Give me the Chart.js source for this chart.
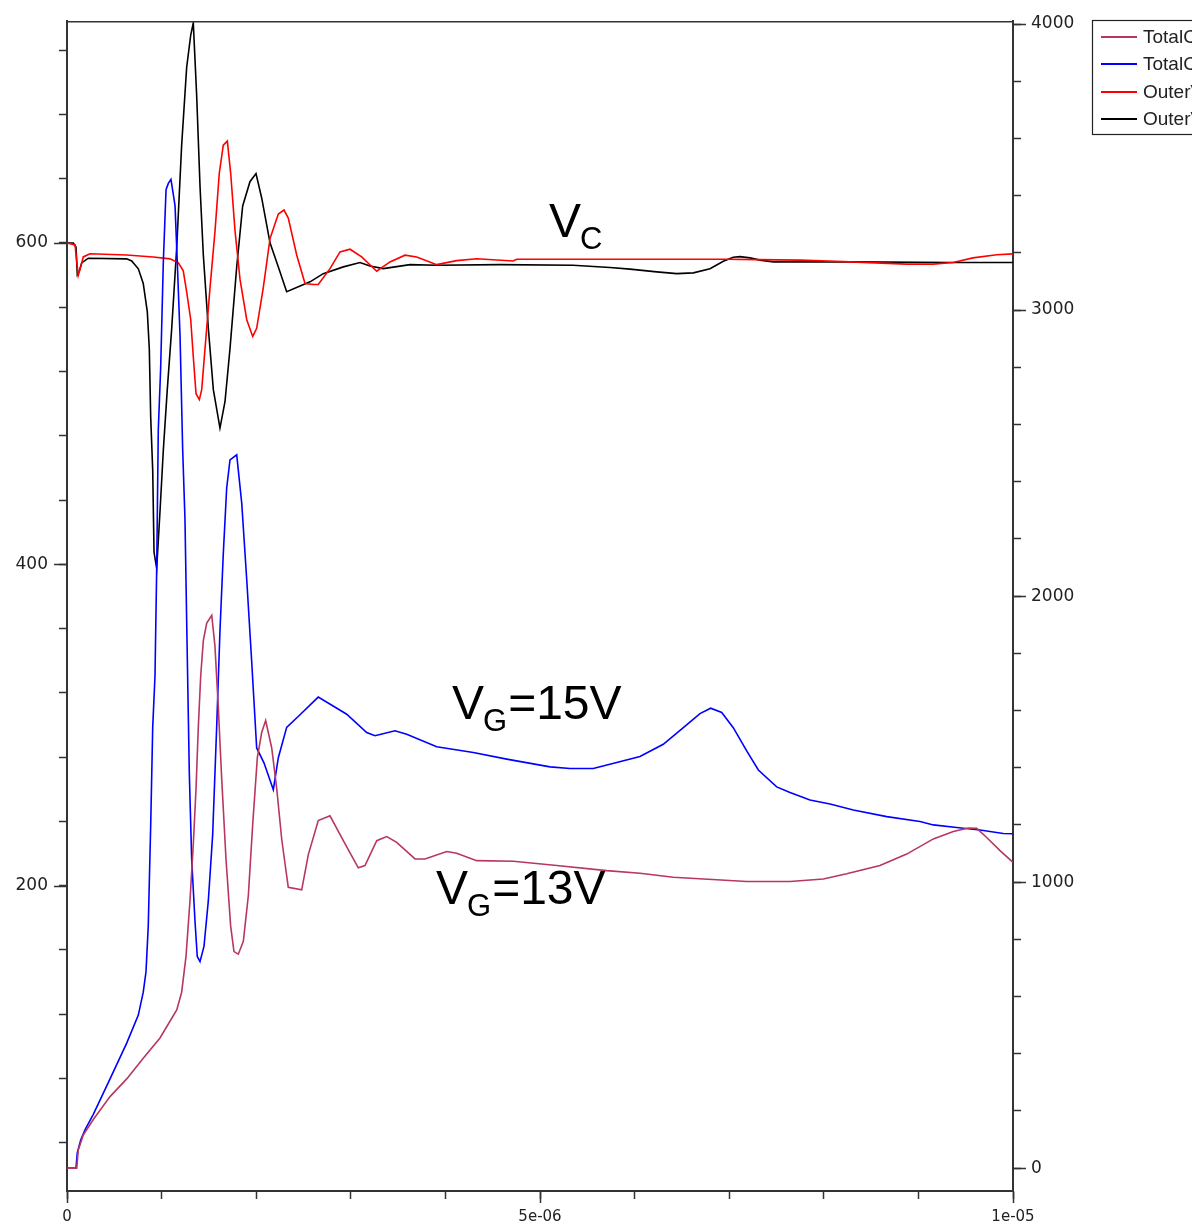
<!DOCTYPE html>
<html>
<head>
<meta charset="utf-8">
<script src="https://cdn.jsdelivr.net/npm/chart.js@4.4.1/dist/chart.umd.min.js"></script>
<style>
  html, body { margin: 0; padding: 0; background: #fff; }
  #wrap { width: 1203px; height: 1231px; position: relative; }
</style>
</head>
<body>
<div id="wrap"><canvas id="chart" width="1203" height="1231"></canvas></div>
<script>
// time in microseconds, voltages on left axis (V), currents on right axis (A)

// collector voltage, VG=13V (black)
const outerBlackT = [0, 0.067, 0.095, 0.109, 0.13, 0.155, 0.225, 0.631, 0.684, 0.754, 0.806, 0.849, 0.87, 0.885, 0.906, 0.92, 0.948, 0.983, 1.018, 1.06, 1.107, 1.16, 1.212, 1.265, 1.308, 1.335, 1.371, 1.406, 1.441, 1.494, 1.547, 1.617, 1.67, 1.723, 1.794, 1.857, 1.934, 1.998, 2.058, 2.146, 2.234, 2.322, 2.569, 2.709, 2.921, 3.097, 3.203, 3.344, 3.626, 3.908, 4.577, 5.349, 5.74, 5.951, 6.234, 6.445, 6.621, 6.797, 6.938, 7.043, 7.114, 7.22, 7.326, 7.466, 8.277, 9.366, 10.0];
const outerBlackV = [600, 600, 597.5, 580.3, 582.6, 587.6, 590.5, 590.1, 588.8, 583.9, 574.8, 557.1, 534.2, 491.3, 458.4, 407.5, 397.5, 432.9, 470.8, 508.7, 546.9, 597.5, 660.9, 709.3, 729.4, 737.0, 691.3, 635.4, 592.5, 546.9, 508.7, 484.8, 501.2, 534.2, 585.1, 623.0, 638.1, 643.2, 628.0, 600.1, 585.1, 569.7, 575.8, 580.9, 585.1, 587.8, 585.7, 584.0, 586.5, 586.1, 586.5, 586.1, 584.7, 583.7, 582.0, 580.9, 581.4, 584.0, 588.6, 591.1, 591.5, 590.7, 589.3, 588.2, 588.2, 587.8, 587.8];

// collector voltage, VG=15V (red)
const outerRedT = [0, 0.085, 0.109, 0.119, 0.145, 0.172, 0.243, 0.631, 0.912, 1.089, 1.177, 1.229, 1.265, 1.308, 1.335, 1.364, 1.399, 1.424, 1.459, 1.512, 1.565, 1.61, 1.652, 1.695, 1.73, 1.776, 1.829, 1.9, 1.963, 2.005, 2.075, 2.146, 2.234, 2.294, 2.339, 2.428, 2.516, 2.604, 2.656, 2.78, 2.886, 2.992, 3.115, 3.274, 3.414, 3.573, 3.697, 3.908, 4.119, 4.331, 4.715, 4.754, 6.974, 7.291, 7.748, 8.277, 8.876, 9.154, 9.366, 9.577, 9.828, 10.0];
const outerRedV = [600, 598.8, 585.1, 579.8, 585.1, 591.3, 593.3, 592.5, 591.3, 590.1, 587.6, 582.6, 569.6, 552.2, 529.2, 506.2, 502.5, 508.7, 534.2, 572.2, 607.7, 643.5, 660.9, 663.4, 643.5, 607.7, 577.3, 552.2, 541.8, 546.9, 572.2, 602.7, 618.0, 620.5, 615.5, 592.5, 574.8, 574.1, 574.1, 584.0, 594.4, 596.1, 591.3, 582.4, 588.2, 592.4, 591.3, 586.5, 589.0, 590.2, 588.8, 589.9, 589.9, 589.6, 589.3, 588.2, 586.8, 586.8, 587.8, 590.7, 592.7, 593.2];

// total current, VG=15V (blue)
const totalBlueT = [0, 0.095, 0.109, 0.145, 0.19, 0.278, 0.455, 0.631, 0.754, 0.806, 0.835, 0.859, 0.885, 0.906, 0.93, 0.948, 0.965, 0.99, 1.018, 1.047, 1.071, 1.099, 1.142, 1.166, 1.195, 1.223, 1.247, 1.265, 1.293, 1.318, 1.353, 1.377, 1.406, 1.448, 1.494, 1.54, 1.582, 1.617, 1.652, 1.688, 1.723, 1.794, 1.847, 1.9, 1.952, 2.005, 2.082, 2.181, 2.234, 2.322, 2.463, 2.656, 2.957, 3.168, 3.256, 3.467, 3.591, 3.908, 4.295, 4.648, 5.106, 5.317, 5.563, 5.811, 6.057, 6.303, 6.515, 6.691, 6.804, 6.921, 7.043, 7.185, 7.308, 7.502, 7.643, 7.854, 8.066, 8.312, 8.665, 9.017, 9.158, 9.405, 9.651, 9.897, 10.0];
const totalBlueI = [0, 0, 54, 98, 134, 188, 312, 437, 535, 615, 686, 846, 1202, 1541, 1719, 2094, 2581, 2796, 3166, 3421, 3443, 3457, 3365, 3166, 2909, 2510, 2270, 1913, 1381, 1079, 864, 740, 722, 775, 935, 1167, 1541, 1879, 2147, 2378, 2476, 2494, 2325, 2057, 1773, 1469, 1417, 1323, 1435, 1541, 1585, 1647, 1587, 1523, 1512, 1529, 1517, 1473, 1453, 1430, 1403, 1397, 1397, 1418, 1439, 1482, 1540, 1589, 1608, 1593, 1540, 1459, 1392, 1333, 1313, 1287, 1273, 1252, 1229, 1212, 1200, 1191, 1182, 1170, 1169];

// total current, VG=13V (maroon)
const totalMaroonT = [0, 0.103, 0.119, 0.172, 0.278, 0.455, 0.631, 0.806, 0.983, 1.16, 1.212, 1.258, 1.3, 1.335, 1.364, 1.388, 1.413, 1.441, 1.477, 1.53, 1.564, 1.599, 1.635, 1.681, 1.73, 1.765, 1.811, 1.864, 1.917, 1.963, 2.012, 2.058, 2.1, 2.164, 2.217, 2.27, 2.339, 2.481, 2.551, 2.656, 2.78, 2.921, 3.079, 3.15, 3.274, 3.38, 3.485, 3.679, 3.784, 4.014, 4.119, 4.331, 4.718, 5.177, 5.705, 6.057, 6.409, 6.868, 7.185, 7.643, 7.995, 8.242, 8.594, 8.876, 9.158, 9.369, 9.528, 9.617, 9.722, 9.863, 10.0];
const totalMaroonI = [0, 0, 63, 116, 170, 250, 312, 384, 455, 553, 615, 740, 935, 1131, 1327, 1541, 1719, 1844, 1906, 1933, 1825, 1613, 1363, 1079, 846, 757, 748, 793, 953, 1202, 1435, 1523, 1565, 1469, 1327, 1149, 982, 973, 1096, 1215, 1232, 1145, 1050, 1058, 1145, 1159, 1139, 1081, 1081, 1107, 1101, 1075, 1073, 1058, 1040, 1031, 1017, 1008, 1002, 1002, 1011, 1029, 1058, 1098, 1151, 1177, 1189, 1188, 1156, 1110, 1069];

const seriesLabels = ["TotalCurrent(VG=13V)", "TotalCurrent(VG=15V)", "OuterVoltage(VG=15V)", "OuterVoltage(VG=13V)"];
const seriesColors = ["#b8375f", "#0000ff", "#ff0000", "#000000"];

const leftTicks = [40, 80, 120, 160, 200, 240, 280, 320, 360, 400, 440, 480, 520, 560, 600, 640, 680, 720];
const leftLabels = [200, 400, 600];
const rightTicks = [0, 200, 400, 600, 800, 1000, 1200, 1400, 1600, 1800, 2000, 2200, 2400, 2600, 2800, 3000, 3200, 3400, 3600, 3800, 4000];
const rightLabels = [0, 1000, 2000, 3000, 4000];
const timeTicks = [0, 1e-6, 2e-6, 3e-6, 4e-6, 5e-6, 6e-6, 7e-6, 8e-6, 9e-6, 1e-5];
const timeLabels = ["0", "", "", "", "", "5e-06", "", "", "", "", "1e-05"];

const AXIS = "#333";
const LABEL_FONT = { family: "DejaVu Sans", size: 17 };

function pts(ts, vs) {
  return ts.map((t, i) => ({ x: t * 1e-6, y: vs[i] }));
}

function lineSet(i, data, axis) {
  return {
    label: seriesLabels[i],
    data: data,
    yAxisID: axis,
    borderColor: seriesColors[i],
    borderWidth: 1.6,
    pointRadius: 0,
    tension: 0,
    fill: false
  };
}

// longer marks at labelled ticks, top frame line
const frameExtras = {
  id: "frameExtras",
  afterDraw(chart) {
    const { ctx, chartArea, scales } = chart;
    ctx.save();
    ctx.strokeStyle = AXIS;
    ctx.lineWidth = 1.5;
    ctx.beginPath();
    leftLabels.forEach(v => {
      const y = Math.round(scales.yL.getPixelForValue(v)) + 0.5;
      ctx.moveTo(chartArea.left - 13, y); ctx.lineTo(chartArea.left, y);
    });
    rightLabels.forEach(v => {
      const y = Math.round(scales.yR.getPixelForValue(v)) + 0.5;
      ctx.moveTo(chartArea.right, y); ctx.lineTo(chartArea.right + 13, y);
    });
    [0, 5e-6, 1e-5].forEach(v => {
      const x = Math.round(scales.x.getPixelForValue(v)) + 0.5;
      ctx.moveTo(x, chartArea.bottom); ctx.lineTo(x, chartArea.bottom + 12);
    });
    ctx.stroke();
    ctx.beginPath();
    ctx.moveTo(chartArea.left, chartArea.top + 0.5);
    ctx.lineTo(chartArea.right, chartArea.top + 0.5);
    ctx.stroke();
    ctx.restore();
  }
};

// legend box at the upper right, its right part cut off
const boxLegend = {
  id: "boxLegend",
  afterDraw(chart) {
    const ctx = chart.ctx;
    const rows = [37, 64, 92, 119];
    ctx.save();
    ctx.beginPath();
    ctx.rect(1080, 0, 112, 200);
    ctx.clip();
    ctx.fillStyle = "#fff";
    ctx.fillRect(1092, 20, 200, 115);
    ctx.strokeStyle = "#222";
    ctx.lineWidth = 1.2;
    ctx.strokeRect(1092.5, 20.5, 200, 114);
    ctx.font = "19px 'Liberation Sans', Arial, sans-serif";
    ctx.textBaseline = "middle";
    chart.data.datasets.forEach((ds, i) => {
      const y = rows[i];
      ctx.strokeStyle = ds.borderColor;
      ctx.lineWidth = 2.2;
      ctx.beginPath();
      ctx.moveTo(1101, y);
      ctx.lineTo(1137, y);
      ctx.stroke();
      ctx.fillStyle = "#222";
      ctx.fillText(ds.label, 1143, y + 1);
    });
    ctx.restore();
  }
};

// curve annotations with subscripts
const curveNotes = {
  id: "curveNotes",
  afterDatasetsDraw(chart) {
    const ctx = chart.ctx;
    const notes = [
      { x: 549, y: 237, sub: "C", rest: "" },
      { x: 452, y: 719, sub: "G", rest: "=15V" },
      { x: 436, y: 904, sub: "G", rest: "=13V" }
    ];
    ctx.save();
    ctx.fillStyle = "#000";
    ctx.textBaseline = "alphabetic";
    notes.forEach(n => {
      ctx.font = "48px 'Liberation Sans', Arial, sans-serif";
      ctx.fillText("V", n.x, n.y);
      let x = n.x + ctx.measureText("V").width - 1;
      ctx.font = "31px 'Liberation Sans', Arial, sans-serif";
      ctx.fillText(n.sub, x, n.y + 12);
      x += ctx.measureText(n.sub).width + 1;
      if (n.rest) {
        ctx.font = "48px 'Liberation Sans', Arial, sans-serif";
        ctx.fillText(n.rest, x, n.y);
      }
    });
    ctx.restore();
  }
};

const ctx = document.getElementById("chart").getContext("2d");

new Chart(ctx, {
  type: "line",
  data: {
    datasets: [
      lineSet(0, pts(totalMaroonT, totalMaroonI), "yR"),
      lineSet(1, pts(totalBlueT, totalBlueI), "yR"),
      lineSet(2, pts(outerRedT, outerRedV), "yL"),
      lineSet(3, pts(outerBlackT, outerBlackV), "yL")
    ]
  },
  options: {
    responsive: false,
    animation: false,
    layout: { padding: { top: 19, left: 0, right: 0, bottom: 0 } },
    plugins: { legend: { display: false }, tooltip: { enabled: false } },
    scales: {
      x: {
        type: "linear",
        min: 0,
        max: 1e-5,
        afterBuildTicks: s => { s.ticks = timeTicks.map(v => ({ value: v })); },
        afterFit: s => { s.height = 40; },
        grid: { drawOnChartArea: false, tickLength: 8, tickColor: AXIS, tickWidth: 1.5 },
        border: { color: AXIS, width: 2 },
        ticks: {
          autoSkip: false, maxRotation: 0, padding: 9,
          color: "#222", font: { family: "DejaVu Sans", size: 15 },
          callback: (v, i) => timeLabels[i]
        }
      },
      yL: {
        type: "linear",
        position: "left",
        min: 10,
        max: 738,
        afterBuildTicks: s => { s.ticks = leftTicks.map(v => ({ value: v })); },
        afterFit: s => { s.width = 67; },
        grid: { drawOnChartArea: false, tickLength: 8, tickColor: AXIS, tickWidth: 1.5 },
        border: { color: AXIS, width: 2 },
        ticks: {
          autoSkip: false, padding: 11, color: "#222", font: LABEL_FONT,
          callback: v => leftLabels.includes(v) ? String(v) : ""
        }
      },
      yR: {
        type: "linear",
        position: "right",
        min: -80,
        max: 4010,
        afterBuildTicks: s => { s.ticks = rightTicks.map(v => ({ value: v })); },
        afterFit: s => { s.width = 190; },
        grid: { drawOnChartArea: false, tickLength: 8, tickColor: AXIS, tickWidth: 1.5 },
        border: { color: AXIS, width: 2 },
        ticks: {
          autoSkip: false, padding: 10, color: "#222", font: LABEL_FONT,
          callback: v => rightLabels.includes(v) ? String(v) : ""
        }
      }
    }
  },
  plugins: [frameExtras, boxLegend, curveNotes]
});
</script>
</body>
</html>
